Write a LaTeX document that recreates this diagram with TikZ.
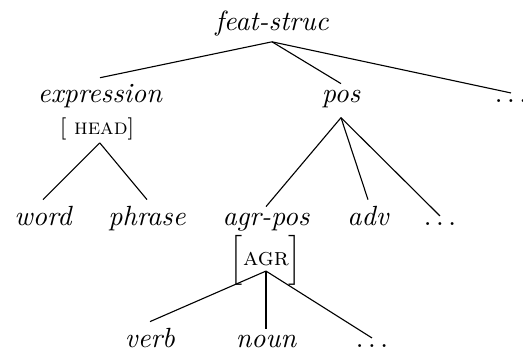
\documentclass[tikz,border=0pt]{standalone}
\begin{document}
\begin{tikzpicture}[x=0.36pt,y=-0.36pt,
  lab/.style={anchor=base,inner sep=2pt,font=\itshape},
  dots/.style={anchor=base,inner sep=2pt,font=\normalfont},
  avm/.style={anchor=base,inner sep=0pt,font=\footnotesize},
  edge/.style={draw=black,line width=0.4pt}]
\useasboundingbox (0,0) rectangle (523,351);
\node[lab] (fs) at (272,30) {feat-struc};
\node[lab] (expr) at (100,102) {expression};
\node[lab] (pos) at (341,102) {pos};
\node[dots] (d1) at (511,102) {$\ldots$};
\node[avm] (head) at (97,134) {[\ \textsc{head}]};
\node[lab] (word) at (43,225) {word};
\node[lab] (phrase) at (147,225) {phrase};
\node[lab] (agrpos) at (266,225) {agr-pos};
\node[lab] (adv) at (368,225) {adv};
\node[dots] (d2) at (440,225) {$\ldots$};
\node[avm] (agr) at (266,265.5) {$\left[\vrule height 8.5pt depth 5pt width 0pt\mbox{\small\textsc{agr}}\right]$};
\node[lab] (verb) at (150,347) {verb};
\node[lab] (noun) at (266,347) {noun};
\node[dots] (d3) at (372,347) {$\ldots$};
\draw[edge] (fs.south) -- (expr.north);
\draw[edge] (fs.south) -- (pos.north);
\draw[edge] (fs.south) -- (d1.north);
\draw[edge] ([xshift=1pt,yshift=-1pt]head.south) -- (word.north);
\draw[edge] ([xshift=1pt,yshift=-1pt]head.south) -- (phrase.north);
\coordinate (posb) at ([yshift=-1.5pt]pos.south);
\draw[edge] (posb) -- (agrpos.north);
\draw[edge] (posb) -- (adv.north);
\draw[edge] (posb) -- (d2.north);
\coordinate (agrb) at ([yshift=-2pt]agr.base);
\draw[edge] (agrb) -- (verb.north);
\draw[edge] (agrb) -- (noun.north);
\draw[edge] (agrb) -- (d3.north);
\end{tikzpicture}
\end{document}
